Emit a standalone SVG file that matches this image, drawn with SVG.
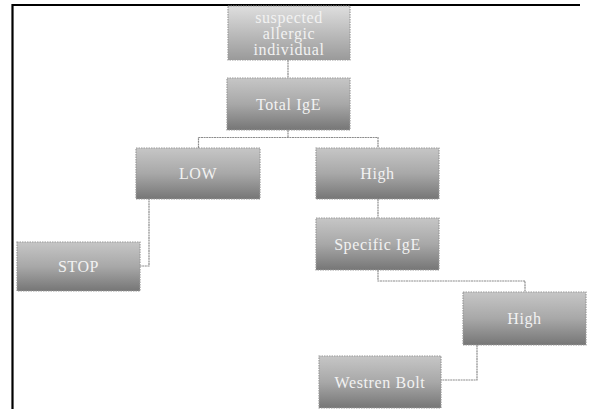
<svg xmlns="http://www.w3.org/2000/svg" width="589" height="409" viewBox="0 0 589 409">
<defs>
<linearGradient id="g" x1="0" y1="0" x2="0" y2="1">
<stop offset="0" stop-color="#c6c6c6"/>
<stop offset="0.5" stop-color="#a8a8a8"/>
<stop offset="1" stop-color="#767676"/>
</linearGradient>
<linearGradient id="g0" x1="0" y1="0" x2="0" y2="1">
<stop offset="0" stop-color="#dedede"/>
<stop offset="1" stop-color="#9a9a9a"/>
</linearGradient>
</defs>
<style>
.box{fill:url(#g);stroke:#9a9a9a;stroke-width:1.2;stroke-dasharray:1.5 1}
.lbl{font-family:"Liberation Serif","DejaVu Serif",serif;font-size:16px;fill:#f2f2f2;text-anchor:middle;dominant-baseline:central;letter-spacing:0.6px}
.con{fill:none;stroke:#8c8c8c;stroke-width:1.2;stroke-dasharray:2 0.6}
</style>
<rect width="589" height="409" fill="#fff"/>
<path d="M580 5 H12.5 V409" fill="none" stroke="#000" stroke-width="2.2"/>
<g id="connectors">
<path class="con" d="M288 60 V78"/>
<path class="con" d="M288 130 V137.5 M198.5 148 V137.5 H378 V148"/>
<path class="con" d="M149 198 V266 H140"/>
<path class="con" d="M378 199 V218"/>
<path class="con" d="M378 270 V281 H525 V292"/>
<path class="con" d="M477 345 V380 H441"/>
</g>
<g id="n1"><rect x="228" y="6" width="122" height="54" fill="url(#g0)" stroke="#9a9a9a" stroke-width="1.2" stroke-dasharray="1.5 1"/>
<text class="lbl" x="289" y="17">suspected</text><text class="lbl" x="289" y="33">allergic</text><text class="lbl" x="289" y="49">individual</text></g>
<g id="n2"><rect class="box" x="227" y="78" width="123" height="52"/><text class="lbl" x="288.5" y="104">Total IgE</text></g>
<g id="n3"><rect class="box" x="136" y="148" width="124" height="51"/><text class="lbl" x="198" y="173">LOW</text></g>
<g id="n4"><rect class="box" x="316" y="148" width="123" height="51"/><text class="lbl" x="377.5" y="173">High</text></g>
<g id="n5"><rect class="box" x="17" y="242" width="123" height="49"/><text class="lbl" x="78.5" y="266">STOP</text></g>
<g id="n6"><rect class="box" x="316" y="218" width="123" height="52"/><text class="lbl" x="377.5" y="244">Specific IgE</text></g>
<g id="n7"><rect class="box" x="463" y="292" width="123" height="53"/><text class="lbl" x="524.5" y="318">High</text></g>
<g id="n8"><rect class="box" x="319" y="356" width="122" height="52"/><text class="lbl" x="380" y="382">Westren Bolt</text></g>
</svg>
